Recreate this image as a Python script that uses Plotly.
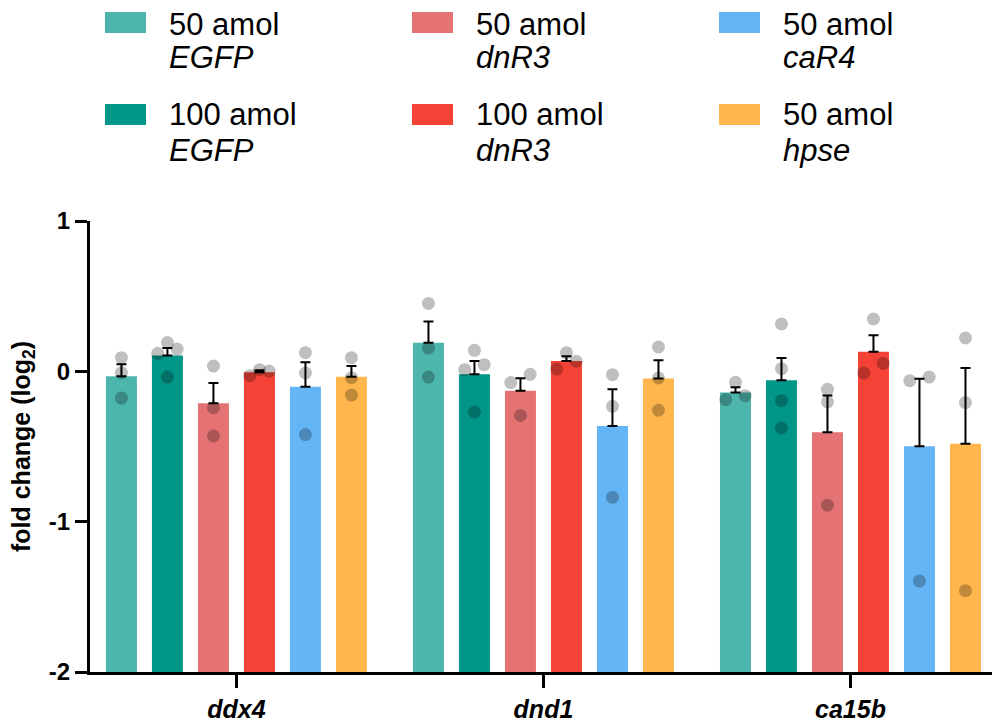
import numpy as np
import plotly.graph_objects as go

# ---- data -----------------------------------------------------------------
genes = ["ddx4", "dnd1", "ca15b"]

doses = ["50 amol", "100 amol", "50 amol", "100 amol", "50 amol", "50 amol"]
constructs = ["EGFP", "EGFP", "dnR3", "dnR3", "caR4", "hpse"]

# replicate log2 fold changes, one list per gene (ddx4, dnd1, ca15b)
egfp_50 = [[0.091, -0.009, -0.178], [0.452, 0.155, -0.038], [-0.073, -0.188, -0.162]]
egfp_100 = [[0.120, 0.191, 0.148, -0.038], [0.011, 0.140, 0.044, -0.271],
            [0.315, 0.018, -0.195, -0.377]]
dnr3_50 = [[0.035, -0.242, -0.430], [-0.075, -0.020, -0.293], [-0.120, -0.204, -0.890]]
dnr3_100 = [[-0.029, 0.011, 0.002], [0.124, 0.067, 0.015], [0.348, -0.011, 0.053]]
car4_50 = [[0.124, -0.011, -0.421], [-0.022, -0.233, -0.838], [-0.062, -0.038, -1.395]]
hpse_50 = [[0.091, -0.042, -0.158], [0.162, -0.044, -0.259], [0.222, -0.208, -1.459]]

replicates = [egfp_50, egfp_100, dnr3_50, dnr3_100, car4_50, hpse_50]

y_ticks = [-2, -1, 0, 1]

# ---- style ----------------------------------------------------------------
colors = ["#4DB6AC", "#009688", "#E57373", "#F44336", "#64B5F6", "#FFB74D"]
FONT = "Liberation Sans, Arial, Helvetica, sans-serif"

W, H = 992, 724
ML, MR, MT, MB = 90, 0, 221, 52
PW, PH = W - ML - MR, H - MT - MB

Y_RANGE = [-2, 1]
X_RANGE = [-0.477, 2.461]
px_per_x = PW / (X_RANGE[1] - X_RANGE[0])
px_per_y = PH / (Y_RANGE[1] - Y_RANGE[0])

BAR_BASE = Y_RANGE[0]          # bars rise from the bottom of the axis
BAR_PITCH = 46 / px_per_x      # distance between neighbouring bars
BAR_WIDTH = 31 / px_per_x
DOT_STEP = 9.7 / px_per_x      # horizontal shift of overlapping dots
DOT_GAP = 10 / px_per_y        # dots closer than this are spread sideways


def dot_offsets(vals):
    """Spread replicate dots that sit too close to each other."""
    order = sorted(range(len(vals)), key=lambda i: -vals[i])
    clusters, cur = [], [order[0]]
    for a, b in zip(order[:-1], order[1:]):
        if vals[a] - vals[b] < DOT_GAP:
            cur.append(b)
        else:
            clusters.append(cur)
            cur = [b]
    clusters.append(cur)
    offs = [0.0] * len(vals)
    for cl in clusters:
        if len(cl) == 1:
            pattern = [0]
        elif len(cl) == 2:
            pattern = [1, -1]
        else:
            pattern = [0]
            k = 1
            while len(pattern) < len(cl):
                pattern += [k, -k]
                k += 1
        for idx, p in zip(cl, pattern):
            offs[idx] = p * DOT_STEP
    return offs


fig = go.Figure()

n_groups = len(replicates)
for k, (reps, col) in enumerate(zip(replicates, colors)):
    shift = (k - (n_groups - 1) / 2) * BAR_PITCH
    xs = [g + shift for g in range(len(genes))]
    means = [float(np.mean(r)) for r in reps]
    sems = [float(np.std(r, ddof=1) / np.sqrt(len(r))) for r in reps]
    fig.add_trace(go.Bar(
        x=xs, y=[m - BAR_BASE for m in means], base=BAR_BASE, width=BAR_WIDTH,
        marker=dict(color=col, line=dict(width=0)),
        error_y=dict(type="data", symmetric=False, array=sems,
                     arrayminus=[0] * len(sems), color="black",
                     thickness=2, width=5),
        name=f"{doses[k]} {constructs[k]}",
        hoverinfo="skip",
    ))

for k, reps in enumerate(replicates):
    shift = (k - (n_groups - 1) / 2) * BAR_PITCH
    dx, dy = [], []
    for g, r in enumerate(reps):
        offs = dot_offsets(r)
        dx += [g + shift + o for o in offs]
        dy += list(r)
    fig.add_trace(go.Scatter(
        x=dx, y=dy, mode="markers",
        marker=dict(size=13, color="rgba(0,0,0,0.25)", line=dict(width=0)),
        hoverinfo="skip", showlegend=False,
    ))


# ---- legend drawn as swatches + two-line labels ---------------------------
def pxx(px):
    return (px - ML) / PW


def pxy(py):
    return (MT + PH - py) / PH


shapes, annotations = [], []
for k, (dose, con, col) in enumerate(zip(doses, constructs, colors)):
    c, r = k // 2, k % 2
    sx = 105 + c * 307
    sy = 12 + r * 92
    shapes.append(dict(type="rect", xref="paper", yref="paper",
                       x0=pxx(sx), x1=pxx(sx + 41), y0=pxy(sy + 21), y1=pxy(sy),
                       fillcolor=col, line=dict(width=0)))
    annotations.append(dict(xref="paper", yref="paper", x=pxx(sx + 62),
                            y=pxy(24 + r * 91), xanchor="left", yanchor="middle",
                            text=dose, showarrow=False,
                            font=dict(family=FONT, size=31, color="black")))
    annotations.append(dict(xref="paper", yref="paper", x=pxx(sx + 62),
                            y=pxy(57 + r * 93), xanchor="left", yanchor="middle",
                            text=con, showarrow=False,
                            font=dict(family=FONT, size=31, color="black",
                                      style="italic")))

fig.update_layout(
    width=W, height=H,
    margin=dict(l=ML, r=MR, t=MT, b=MB, autoexpand=False),
    plot_bgcolor="white", paper_bgcolor="white",
    barmode="overlay", showlegend=False,
    shapes=shapes, annotations=annotations,
    font=dict(family=FONT, color="black"),
)

fig.update_xaxes(
    range=X_RANGE, tickmode="array", tickvals=list(range(len(genes))),
    ticktext=genes, ticks="outside", ticklen=13, tickwidth=3, tickcolor="black",
    showline=True, linewidth=3, linecolor="black", showgrid=False, zeroline=False,
    tickfont=dict(family=FONT, size=25, color="black", weight="bold", style="italic"),
)
fig.update_yaxes(
    range=Y_RANGE, tickmode="array", tickvals=y_ticks,
    ticktext=[str(t) for t in y_ticks],
    ticks="outside", ticklen=12, tickwidth=3, tickcolor="black",
    showline=True, linewidth=3, linecolor="black", showgrid=False, zeroline=False,
    tickfont=dict(family=FONT, size=24, color="black", weight="bold"),
    title=dict(text="fold change (log<sub>2</sub>)", standoff=12,
               font=dict(family=FONT, size=25, color="black", weight="bold")),
)

fig.write_html("out.html")
